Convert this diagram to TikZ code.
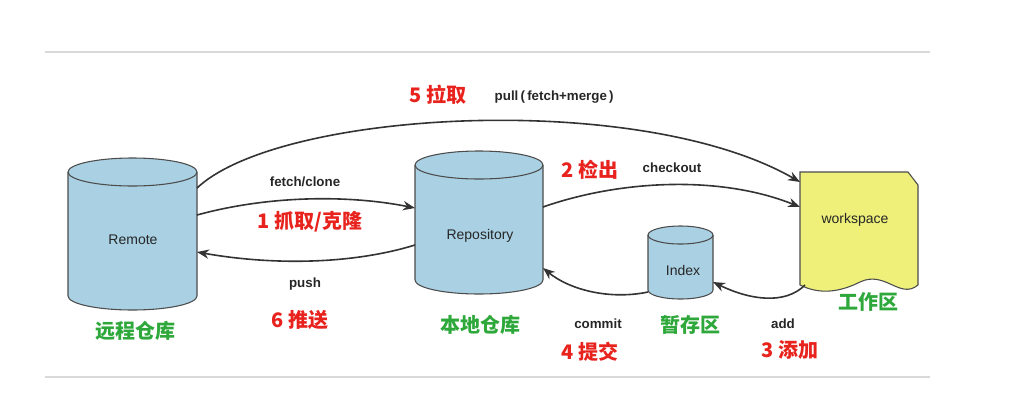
\documentclass[tikz,border=0pt]{standalone}
\usepackage{fontspec}
\setmainfont{Liberation Sans}
\newfontfamily\cjk{Noto Sans CJK SC}
\usetikzlibrary{arrows.meta}
\begin{document}
\begin{tikzpicture}[x=0.75pt,y=-0.75pt,
  cyl/.style={fill=cylblue,draw=black!70,line width=0.8pt},
  conn/.style={-{Stealth[length=9pt,width=7pt]},line width=1.2pt,black!80},
  en/.style={font=\bfseries\fontsize{10}{12}\selectfont,text=black!85},
  red/.style={font=\cjk\bfseries\fontsize{15}{18}\selectfont,text=redtxt},
  grn/.style={font=\cjk\bfseries\fontsize{15}{18}\selectfont,text=grntxt},
  lab/.style={font=\fontsize{10.5}{12}\selectfont,text=black!85}]
\definecolor{cylblue}{HTML}{A9D0E3}
\definecolor{redtxt}{HTML}{E8231E}
\definecolor{grntxt}{HTML}{2EA83A}
\definecolor{wsy}{HTML}{EEF07A}
\useasboundingbox (0,0) rectangle (1022,401);
\draw[black!15,line width=1pt] (45,52) -- (930,52);
\draw[black!15,line width=1pt] (45,377) -- (930,377);
\newcommand{\mycyl}[5]{%
  \path[cyl] (#2,#4) -- (#2,#5) arc[start angle=180,end angle=0,x radius={(#3-#2)/2},y radius=#1] -- (#3,#4) arc[start angle=0,end angle=-180,x radius={(#3-#2)/2},y radius=#1] -- cycle;
  \draw[black!70,line width=0.8pt] (#2,#4) arc[start angle=180,end angle=0,x radius={(#3-#2)/2},y radius=#1];
}
\mycyl{14}{68}{197}{172}{296}
\mycyl{14}{415}{543}{165}{280}
\mycyl{9}{648}{713}{235}{290}
\node[lab] (remote) at (133,240) {Remote};
\node[lab] (repo) at (480,236) {Repository};
\node[lab] (index) at (683,270) {Index};
\path[fill=wsy,draw=black!70,line width=0.8pt] (800,172) -- (908,172) -- (918,185) -- (918,285)
  .. controls (900,300) and (885,270) .. (860,282) .. controls (840,292) and (820,295) .. (800,285) -- cycle;
\node[lab] (ws) at (855,220) {workspace};
\coordinate (rmR1) at (197,188);
\coordinate (rmR2) at (197,215);
\coordinate (rmR3) at (197,252);
\coordinate (rpL1) at (415,208);
\coordinate (rpL2) at (415,245);
\coordinate (rpR1) at (543,207);
\coordinate (rpR2) at (543,268);
\coordinate (wsL1) at (800,182);
\coordinate (wsL2) at (800,207);
\coordinate (wsB) at (805,285);
\coordinate (ixR) at (713,282);
\coordinate (ixL) at (648,292);
\draw[conn] (rmR1) .. controls (280,110) and (640,90) .. (wsL1);
\draw[conn] (rmR2) .. controls (270,195) and (350,195) .. (rpL1);
\draw[conn] (rpL2) .. controls (350,265) and (270,265) .. (rmR3);
\draw[conn] (rpR1) .. controls (620,180) and (720,175) .. (wsL2);
\draw[conn] (wsB) .. controls (785,305) and (750,300) .. (ixR);
\draw[conn] (ixL) .. controls (610,300) and (570,290) .. (rpR2);
\node[red,anchor=west] (t5) at (405,95) {5 拉取};
\node[en,anchor=west] (t5e) at (490,97) {pull\,(\,fetch+merge\,)};
\node[en] (t1e) at (305,182) {fetch/clone};
\node[red] (t1) at (310,222) {1 抓取/克隆};
\node[en] (t6e) at (305,284) {push};
\node[red] (t6) at (300,320) {6 推送};
\node[red] (t2) at (590,170) {2 检出};
\node[en] (t2e) at (672,168) {checkout};
\node[en] (t3e) at (783,324) {add};
\node[red] (t3) at (790,350) {3 添加};
\node[en] (t4e) at (598,324) {commit};
\node[red] (t4) at (590,352) {4 提交};
\node[grn] (g1) at (135,331) {远程仓库};
\node[grn] (g2) at (480,325) {本地仓库};
\node[grn] (g3) at (690,325) {暂存区};
\node[grn] (g4) at (868,302) {工作区};
\end{tikzpicture}
\end{document}
